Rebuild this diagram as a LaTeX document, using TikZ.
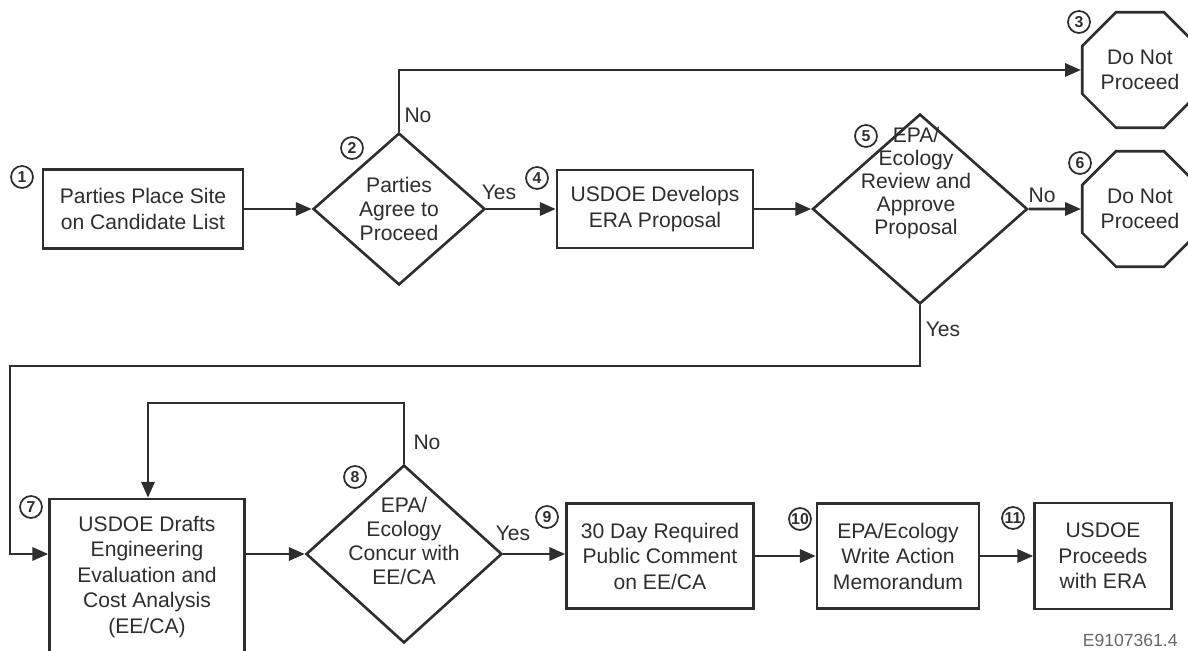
\documentclass[tikz,border=0pt]{standalone}
\usepackage{fontspec}
\setmainfont{Liberation Sans}
\usetikzlibrary{arrows.meta,shapes.geometric}
\definecolor{ink}{HTML}{2E2E2E}
\tikzset{
    stepbox/.style={draw=ink, line width=1.5pt, rectangle, align=center, inner sep=0pt,
        font=\fontsize{12pt}{14.5pt}\selectfont, text=ink},
    decide/.style={draw=ink, line width=1.5pt, diamond, inner sep=0pt},
    stopsign/.style={draw=ink, line width=1.5pt, regular polygon, regular polygon sides=8,
        minimum size=2.5cm, inner sep=0pt, align=center,
        font=\fontsize{12pt}{14.5pt}\selectfont, text=ink},
    dtext/.style={align=center, inner sep=0pt, font=\fontsize{12pt}{13.8pt}\selectfont, text=ink},
    num/.style={draw=ink, line width=1pt, circle, minimum size=0.44cm, inner sep=0pt,
        font=\bfseries\fontsize{9pt}{9pt}\selectfont, text=ink},
    lab/.style={inner sep=0pt, font=\fontsize{12pt}{12pt}\selectfont, text=ink},
    flow/.style={draw=ink, line width=1.5pt, -{Triangle[length=9pt,width=7.5pt]}},
}
\begin{document}
\begin{tikzpicture}[x=0.02cm, y=-0.02cm]
    \useasboundingbox (0,0) rectangle (1188,651);

    % Top row
    \node[stepbox, minimum width=4cm, minimum height=1.58cm] (b1) at (143,209) {Parties Place Site\\on Candidate List};
    \node[decide, minimum width=3.44cm, minimum height=3.04cm] (d2) at (399,209) {};
    \node[dtext] (t2) at (399,209) {Parties\\Agree to\\Proceed};
    \node[stepbox, minimum width=3.92cm, minimum height=1.56cm] (b4) at (655,209) {USDOE Develops\\ERA Proposal};
    \node[decide, minimum width=4.3cm, minimum height=3.8cm] (d5) at (920,209) {};
    \node[dtext, font=\fontsize{12pt}{13.2pt}\selectfont] (t5) at (916,183) {EPA/\\Ecology\\Review and\\Approve\\Proposal};
    \node[stopsign] (s3) at (1140,70) {Do Not\\Proceed};
    \node[stopsign] (s6) at (1140,209) {Do Not\\Proceed};

    % Bottom row
    \node[stepbox, minimum width=3.9cm, minimum height=3.12cm] (b7) at (147,577) {USDOE Drafts\\Engineering\\Evaluation and\\Cost Analysis\\(EE/CA)};
    \node[decide, minimum width=3.92cm, minimum height=3.56cm] (d8) at (404,554) {};
    \node[dtext] (t8) at (404,541) {EPA/\\Ecology\\Concur with\\EE/CA};
    \node[stepbox, minimum width=3.74cm, minimum height=2.1cm] (b9) at (660,556) {30 Day Required\\Public Comment\\on EE/CA};
    \node[stepbox, minimum width=3.24cm, minimum height=2.1cm] (b10) at (898,556) {EPA/Ecology\\Write Action\\Memorandum};
    \node[stepbox, minimum width=2.74cm, minimum height=2.12cm] (b11) at (1103,556) {USDOE\\Proceeds\\with ERA};

    % Bends of the long lines
    \coordinate (c1) at (10,366);
    \coordinate (c2) at (148,403);

    % Connectors
    \draw[flow] (b1) -- (d2.west);
    \draw[flow] (d2.east) -- (b4);
    \draw[flow] (d2.north) |- (s3.west);
    \draw[flow] (b4) -- (d5.west);
    \draw[flow] (d5.east) -- (s6.west);
    \draw[flow] (d5.south) |- (c1) |- (b7.west |- d8.west);
    \draw[flow] (b7.east |- d8.west) -- (d8.west);
    \draw[flow] (d8.north) |- (c2) -- (c2 |- b7.north);
    \draw[flow] (d8.east) -- (d8.east -| b9.west);
    \draw[flow] (b9) -- (b10);
    \draw[flow] (b10) -- (b11);

    % Yes / No labels
    \node[lab] (no2) at (418,115) {No};
    \node[lab] (yes2) at (499,192) {Yes};
    \node[lab] (no5) at (1042,195) {No};
    \node[lab] (yes5) at (943,329) {Yes};
    \node[lab] (no8) at (427,442) {No};
    \node[lab] (yes8) at (513,533) {Yes};

    % Step numbers
    \foreach \n/\x/\y in {1/22/177, 2/352/148, 3/1079/22, 4/537/178, 5/866/136, 6/1080/163,
                          7/31/507, 8/355/477, 9/547/517, 10/800/519, 11/1013/518} {
        \node[num] (n\n) at (\x,\y) {\n};
    }

    \node[anchor=east, inner sep=0pt, font=\fontsize{10pt}{10pt}\selectfont, text=black!60] (code) at (1178,640) {E9107361.4};
\end{tikzpicture}
\end{document}
